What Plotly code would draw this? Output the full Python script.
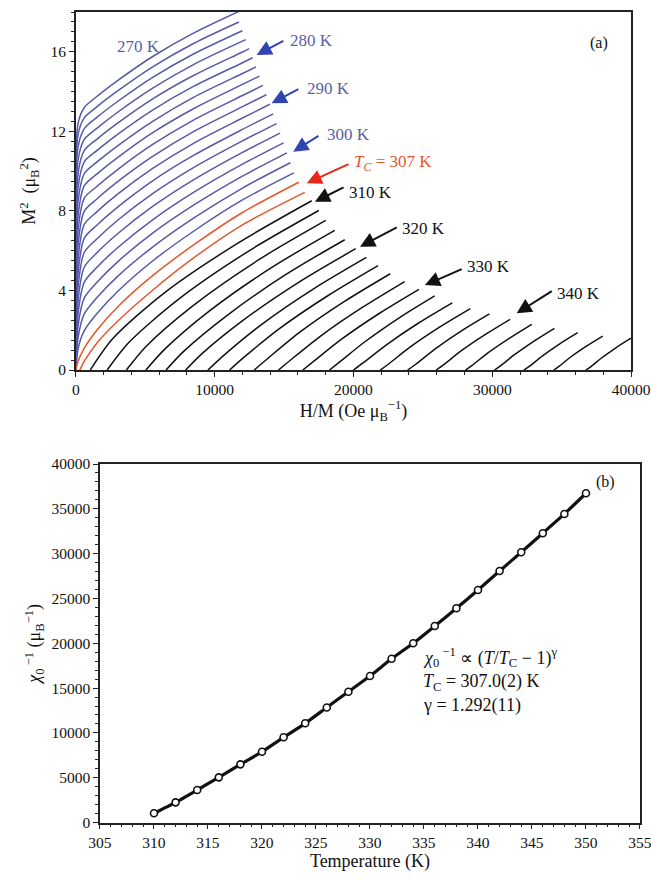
import plotly.graph_objects as go

# ---------------- panel (a): Arrott plot, M^2 versus H/M ----------------
# isotherms below Tc (blue), 270 K ... 304 K in 2 K steps
blue_T = [270, 272, 274, 276, 278, 280, 282, 284, 286, 288,
          290, 292, 294, 296, 298, 300, 302, 304]
blue_hm = [
    [0, 150, 600, 1500, 3000, 5500, 8500, 11900],
    [0, 150, 600, 1500, 3000, 5500, 8500, 11740],
    [0, 150, 600, 1500, 3000, 5500, 8500, 11990],
    [0, 150, 600, 1500, 3000, 5500, 8500, 12235],
    [0, 150, 600, 1500, 3000, 5500, 8500, 12000, 12480],
    [0, 150, 600, 1500, 3000, 5500, 8500, 12000, 12730],
    [0, 150, 600, 1500, 3000, 5500, 8500, 12000, 12980],
    [0, 150, 600, 1500, 3000, 5500, 8500, 12000, 13225],
    [0, 150, 600, 1500, 3000, 5500, 8500, 12000, 13470],
    [0, 150, 600, 1500, 3000, 5500, 8500, 12000, 13720],
    [0, 150, 600, 1500, 3000, 5500, 8500, 12000, 13970],
    [0, 150, 600, 1500, 3000, 5500, 8500, 12000, 14215],
    [0, 150, 600, 1500, 3000, 5500, 8500, 12000, 14460],
    [0, 150, 600, 1500, 3000, 5500, 8500, 12000, 14710],
    [0, 150, 600, 1500, 3000, 5500, 8500, 12000, 14960],
    [0, 150, 600, 1500, 3000, 5500, 8500, 12000, 15205],
    [0, 150, 600, 1500, 3000, 5500, 8500, 12000, 15450],
    [0, 150, 600, 1500, 3000, 5500, 8500, 12000, 15700],
]
blue_m2 = [
    [0, 12.40, 13.20, 13.75, 14.55, 15.75, 16.95, 18.08],
    [0, 11.84, 12.68, 13.23, 14.03, 15.23, 16.43, 17.50],
    [0, 11.22, 12.14, 12.70, 13.50, 14.70, 15.90, 17.06],
    [0, 10.56, 11.60, 12.15, 12.96, 14.16, 15.37, 16.61],
    [0, 9.87, 11.04, 11.60, 12.41, 13.62, 14.82, 15.99, 16.16],
    [0, 9.17, 10.47, 11.03, 11.85, 13.06, 14.27, 15.45, 15.70],
    [0, 8.46, 9.88, 10.45, 11.27, 12.49, 13.72, 14.91, 15.24],
    [0, 7.73, 9.27, 9.85, 10.68, 11.92, 13.15, 14.36, 14.78],
    [0, 7.01, 8.64, 9.23, 10.08, 11.33, 12.58, 13.80, 14.31],
    [0, 6.28, 7.99, 8.60, 9.47, 10.73, 12.00, 13.24, 13.84],
    [0, 5.56, 7.32, 7.95, 8.84, 10.12, 11.41, 12.67, 13.36],
    [0, 4.85, 6.63, 7.28, 8.19, 9.50, 10.80, 12.10, 12.88],
    [0, 4.16, 5.92, 6.59, 7.53, 8.86, 10.19, 11.52, 12.39],
    [0, 3.49, 5.18, 5.89, 6.85, 8.21, 9.57, 10.94, 11.91],
    [0, 2.83, 4.42, 5.16, 6.15, 7.54, 8.94, 10.35, 11.42],
    [0, 2.21, 3.63, 4.40, 5.44, 6.87, 8.30, 9.75, 10.92],
    [0, 1.62, 2.82, 3.63, 4.71, 6.17, 7.65, 9.15, 10.42],
    [0, 1.07, 1.98, 2.83, 3.95, 5.47, 6.99, 8.55, 9.91],
]

# isotherms bracketing Tc (red)
red_T = [306, 308]
red_hm = [
    [0, 150, 600, 1500, 3000, 5500, 8500, 12000, 16060],
    [280, 600, 1500, 3000, 5500, 8500, 12000, 16490],
]
red_m2 = [
    [0, 0.44, 1.10, 2.00, 3.17, 4.73, 6.30, 7.92, 9.44],
    [0, 0.45, 1.35, 2.45, 4.00, 5.65, 7.30, 8.93],
]

# isotherms above Tc (black), 310 K ... 350 K in 2 K steps
black_T = [310, 312, 314, 316, 318, 320, 322, 324, 326, 328, 330,
           332, 334, 336, 338, 340, 342, 344, 346, 348, 350]
black_hm = [
    [1030, 2626, 6350, 11670, 16990],
    [2250, 3775, 7333, 12417, 17500],
    [3630, 5067, 8420, 13210, 18000],
    [5040, 6401, 9577, 14113, 18650],
    [6490, 7778, 10783, 15077, 19370],
    [7900, 9126, 11987, 16073, 20160],
    [9510, 10652, 13317, 17123, 20930],
    [11070, 12140, 14637, 18203, 21770],
    [12840, 13821, 16110, 19380, 22650],
    [14600, 15509, 17630, 20660, 23690],
    [16350, 17187, 19140, 21930, 24720],
    [18270, 19028, 20797, 23323, 25850],
    [20000, 20712, 22373, 24747, 27120],
    [21930, 22579, 24093, 26257, 28420],
    [23900, 24490, 25867, 27833, 29800],
    [25950, 26484, 27730, 29510, 31290],
    [28070, 28548, 29663, 31257, 32850],
    [30160, 30592, 31600, 33040, 34480],
    [32280, 32668, 33573, 34867, 36160],
    [34430, 34783, 35607, 36783, 37960],
    [36740, 37066, 37827, 38913, 40000],
]
black_m2 = [
    [0, 1.56, 3.87, 6.38, 8.51],
    [0, 1.36, 3.53, 5.97, 8.02],
    [0, 1.20, 3.23, 5.56, 7.52],
    [0, 1.05, 2.95, 5.16, 7.02],
    [0, 0.95, 2.69, 4.78, 6.55],
    [0, 0.85, 2.47, 4.42, 6.10],
    [0, 0.74, 2.26, 4.08, 5.66],
    [0, 0.66, 2.07, 3.76, 5.25],
    [0, 0.58, 1.89, 3.46, 4.84],
    [0, 0.53, 1.71, 3.16, 4.45],
    [0, 0.47, 1.55, 2.88, 4.06],
    [0, 0.42, 1.41, 2.64, 3.73],
    [0, 0.37, 1.27, 2.39, 3.38],
    [0, 0.33, 1.16, 2.18, 3.09],
    [0, 0.29, 1.05, 1.99, 2.82],
    [0, 0.26, 0.95, 1.79, 2.55],
    [0, 0.23, 0.85, 1.61, 2.30],
    [0, 0.21, 0.77, 1.47, 2.10],
    [0, 0.18, 0.69, 1.32, 1.88],
    [0, 0.17, 0.63, 1.20, 1.71],
    [0, 0.15, 0.58, 1.12, 1.60],
]

# ---------------- panel (b): inverse initial susceptibility ----------------
chi_T = [310, 312, 314, 316, 318, 320, 322, 324, 326, 328, 330,
         332, 334, 336, 338, 340, 342, 344, 346, 348, 350]
chi_inv = [1030, 2250, 3630, 5040, 6490, 7900, 9510, 11070, 12840, 14600, 16350,
           18270, 20000, 21930, 23900, 25950, 28070, 30160, 32280, 34430, 36740]

FONT = "Liberation Serif"
BLUE = "#5659a6"
BLUE_TXT = "#5b5fa9"
BLUE_ARROW = "#2f45b4"
RED = "#e4572e"
RED_ARROW = "#e8281e"
BLACK = "#111111"

fig = go.Figure()


def add_curves(hms, m2s, color):
    for xs, ys in zip(hms, m2s):
        fig.add_trace(go.Scatter(
            x=xs, y=ys, mode="lines", xaxis="x", yaxis="y",
            line=dict(color=color, width=1.5, shape="spline", smoothing=0.8),
            showlegend=False, hoverinfo="skip"))


add_curves(blue_hm, blue_m2, BLUE)
add_curves(black_hm, black_m2, BLACK)
add_curves(red_hm, red_m2, RED)

fig.add_trace(go.Scatter(
    x=chi_T, y=chi_inv, mode="lines+markers", xaxis="x2", yaxis="y2",
    line=dict(color=BLACK, width=3.2, shape="spline", smoothing=0.6),
    marker=dict(symbol="circle", size=7, color="white",
                line=dict(color=BLACK, width=1.6)),
    showlegend=False, hoverinfo="skip"))

# ---------------- labels and arrows in panel (a) ----------------
labels = [
    ("270 K", 0.1767, 0.9466, BLUE_TXT),
    ("280 K", 0.4424, 0.9545, BLUE_TXT),
    ("290 K", 0.4685, 0.8989, BLUE_TXT),
    ("300 K", 0.4992, 0.8466, BLUE_TXT),
    ("<i>T</i><sub><i>C</i></sub> = 307 K", 0.5402, 0.8148, RED),
    ("310 K", 0.5326, 0.7807, BLACK),
    ("320 K", 0.6144, 0.7398, BLACK),
    ("330 K", 0.7143, 0.6966, BLACK),
    ("340 K", 0.8525, 0.6670, BLACK),
]
annotations = []
for txt, xp, yp, col in labels:
    annotations.append(dict(text=txt, x=xp, y=yp, xref="paper", yref="paper",
                            xanchor="left", yanchor="middle", showarrow=False,
                            font=dict(family=FONT, size=17, color=col)))

# arrows: (tip x, tip y, tail x, tail y, colour) in data units
arrows = [
    (13020, 15.84, 15060, 16.59, BLUE_ARROW),
    (14100, 13.41, 16140, 14.16, BLUE_ARROW),
    (15660, 10.98, 17580, 11.82, BLUE_ARROW),
    (16630, 9.39, 19750, 10.39, RED_ARROW),
    (17220, 8.46, 19390, 9.22, BLACK),
    (20470, 6.20, 23230, 7.21, BLACK),
    (25150, 4.27, 27910, 5.11, BLACK),
    (31760, 2.85, 34400, 4.02, BLACK),
]
for xt, yt, xa, ya, col in arrows:
    annotations.append(dict(text="", x=xt, y=yt, ax=xa, ay=ya,
                            xref="x", yref="y", axref="x", ayref="y",
                            showarrow=True, arrowhead=2, arrowsize=1.5,
                            arrowwidth=2, arrowcolor=col, standoff=0))

annotations.append(dict(text="(a)", x=0.937, y=0.9636, xref="paper", yref="paper",
                        showarrow=False, font=dict(family=FONT, size=16, color=BLACK)))
annotations.append(dict(text="(b)", x=0.9478, y=0.4523, xref="paper", yref="paper",
                        showarrow=False, font=dict(family=FONT, size=16, color=BLACK)))

# fit annotation in panel (b)
fit_lines = [
    ("<i>χ</i><sub>0</sub><sup> −1</sup> ∝ (<i>T</i>/<i>T</i><sub>C</sub> − 1)<sup>γ</sup>", 0.2525),
    ("<i>T</i><sub>C</sub> = 307.0(2) K", 0.2239),
    ("γ = 1.292(11)", 0.1980),
]
for txt, yp in fit_lines:
    annotations.append(dict(text=txt, x=0.6467, y=yp, xref="paper", yref="paper",
                            xanchor="left", yanchor="middle", showarrow=False,
                            font=dict(family=FONT, size=18, color=BLACK)))

axis_common = dict(
    showline=True, mirror=True, linecolor="#222222", linewidth=1.5,
    showgrid=False, zeroline=False, ticks="outside", ticklen=5, tickwidth=1.2,
    tickcolor="#222222", automargin=False, ticklabeloverflow="allow",
    tickfont=dict(family=FONT, size=15.5, color=BLACK),
)

fig.update_layout(
    width=651, height=880,
    margin=dict(l=0, r=0, t=0, b=0),
    paper_bgcolor="white", plot_bgcolor="white",
    font=dict(family=FONT, color=BLACK),
    annotations=annotations,
    xaxis=dict(axis_common, domain=[0.1167, 0.9693], anchor="y",
               range=[0, 40000.5], tick0=0, dtick=10000, tickformat="d",
               minor=dict(dtick=2000, ticks="outside", ticklen=3, tickcolor="#222222"),
               title=dict(text="H/M (Oe μ<sub>B</sub><sup>−1</sup>)", standoff=6,
                          font=dict(family=FONT, size=18))),
    yaxis=dict(axis_common, domain=[0.5795, 0.98636], anchor="x",
               range=[0, 18], tick0=0, dtick=4,
               minor=dict(dtick=0.5, ticks="outside", ticklen=3, tickcolor="#222222"),
               title=dict(text="M<sup>2</sup>  (μ<sub>B</sub><sup>2</sup>)", standoff=10,
                          font=dict(family=FONT, size=18))),
    xaxis2=dict(axis_common, domain=[0.1536, 0.9831], anchor="y2",
                range=[305, 355.001], tick0=305, dtick=5,
                minor=dict(dtick=1, ticks="outside", ticklen=3, tickcolor="#222222"),
                title=dict(text="Temperature (K)", standoff=2,
                           font=dict(family=FONT, size=18))),
    yaxis2=dict(axis_common, domain=[0.0653, 0.4727], anchor="x2",
                range=[0, 40000], tick0=0, dtick=5000, tickformat="d",
                minor=dict(dtick=1000, ticks="outside", ticklen=3, tickcolor="#222222"),
                title=dict(text="<i>χ</i><sub>0</sub><sup> −1</sup> (μ<sub>B</sub><sup>−1</sup>)",
                           standoff=6, font=dict(family=FONT, size=18))),
)

fig.write_html("out.html")
